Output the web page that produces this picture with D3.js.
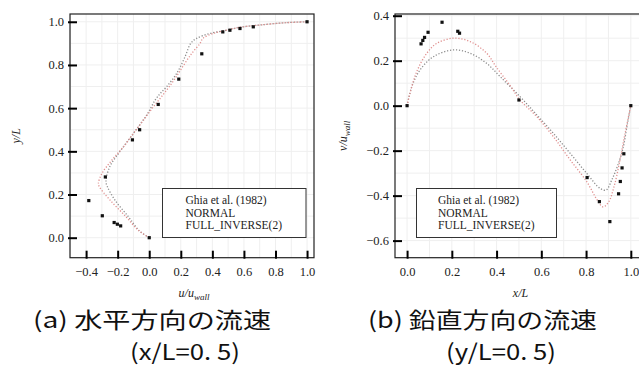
<!DOCTYPE html>
<html>
<head>
<meta charset="utf-8">
<script src="https://cdn.jsdelivr.net/npm/d3@7"></script>
<style>
  body { margin: 0; background: #fff; }
  svg { display: block; }
  .tick text { font-family: "Liberation Serif", serif; font-size: 12.5px; fill: #222; }
  .tick line { stroke: #000; stroke-width: 2; }
  .lbl { font-family: "Liberation Serif", serif; font-style: italic; font-size: 12px; fill: #222; }
  .leg { font-family: "Liberation Serif", serif; font-size: 11.5px; fill: #222; }
  .cap { font-family: "Noto Sans CJK JP", sans-serif; font-size: 22px; fill: #111; }
</style>
</head>
<body>
<div id="chart"></div>
<script>
// Ghia et al. (1982), Re = 1000
const ghiaY = [1.0, 0.9766, 0.9688, 0.9609, 0.9531, 0.8516, 0.7344, 0.6172, 0.5, 0.4531, 0.2813, 0.1719, 0.1016, 0.0703, 0.0625, 0.0547, 0.0];
const ghiaU = [1.0, 0.65928, 0.57492, 0.51117, 0.46604, 0.33304, 0.18719, 0.05702, -0.0608, -0.10648, -0.27805, -0.38289, -0.2973, -0.2222, -0.20196, -0.18109, 0.0];
const ghiaX = [1.0, 0.9688, 0.9609, 0.9531, 0.9453, 0.9063, 0.8594, 0.8047, 0.5, 0.2344, 0.2266, 0.1563, 0.0938, 0.0781, 0.0703, 0.0625, 0.0];
const ghiaV = [0.0, -0.21388, -0.27669, -0.33714, -0.39188, -0.5155, -0.42665, -0.31966, 0.02526, 0.32235, 0.33075, 0.37095, 0.32627, 0.30353, 0.29012, 0.27485, 0.0];

// u along x/L = 0.5
const normalUy = [0, 0.03, 0.097, 0.174, 0.236, 0.26, 0.329, 0.39, 0.452, 0.514, 0.575, 0.637, 0.668, 0.699, 0.761, 0.838, 0.9, 0.923, 0.946, 0.961, 0.974, 0.985, 0.996, 1.0];
const normalU  = [0, -0.06, -0.132, -0.217, -0.265, -0.274, -0.25, -0.195, -0.132, -0.069, -0.01, 0.037, 0.07, 0.11, 0.174, 0.227, 0.263, 0.3, 0.385, 0.49, 0.57, 0.7, 0.87, 1.0];
const inverseUy = [0, 0.035, 0.097, 0.174, 0.236, 0.251, 0.297, 0.359, 0.421, 0.483, 0.544, 0.606, 0.668, 0.73, 0.792, 0.853, 0.9, 0.923, 0.946, 0.961, 0.974, 0.985, 0.996, 1.0];
const inverseU  = [0, -0.07, -0.147, -0.248, -0.316, -0.322, -0.3, -0.237, -0.163, -0.1, -0.037, 0.026, 0.094, 0.157, 0.212, 0.269, 0.322, 0.34, 0.405, 0.49, 0.57, 0.7, 0.87, 1.0];

// v along y/L = 0.5
const normalVx = [0, 0.021, 0.058, 0.118, 0.207, 0.282, 0.356, 0.416, 0.505, 0.58, 0.654, 0.729, 0.803, 0.863, 0.89, 0.915, 0.94, 0.965, 0.985, 1.0];
const normalV  = [0, 0.084, 0.159, 0.218, 0.248, 0.233, 0.188, 0.129, 0.04, -0.041, -0.123, -0.212, -0.301, -0.368, -0.375, -0.33, -0.27, -0.19, -0.08, 0];
const inverseVx = [0, 0.013, 0.043, 0.088, 0.133, 0.207, 0.282, 0.356, 0.4, 0.46, 0.505, 0.58, 0.654, 0.729, 0.803, 0.85, 0.875, 0.9, 0.925, 0.95, 0.975, 1.0];
const inverseV  = [0, 0.055, 0.151, 0.233, 0.277, 0.3, 0.285, 0.233, 0.17, 0.09, 0.025, -0.049, -0.138, -0.241, -0.338, -0.42, -0.45, -0.43, -0.36, -0.25, -0.12, 0];

const legendLabels = ['Ghia et al. (1982)', 'NORMAL', 'FULL_INVERSE(2)'];
const xTicksA = [-0.4, -0.2, 0.0, 0.2, 0.4, 0.6, 0.8, 1.0];
const yTicksA = [0.0, 0.2, 0.4, 0.6, 0.8, 1.0];
const xTicksB = [0.0, 0.2, 0.4, 0.6, 0.8, 1.0];
const yTicksB = [-0.6, -0.4, -0.2, 0.0, 0.2, 0.4];

const width = 639, height = 367;
const svg = d3.select('#chart').append('svg')
  .attr('width', width).attr('height', height);

const zip = (a, b) => a.map((d, i) => [d, b[i]]);

function panel(opt) {
  const x = d3.scaleLinear().domain(opt.xDom).range([opt.left, opt.right]);
  const y = d3.scaleLinear().domain(opt.yDom).range([opt.bottom, opt.top]);
  const g = svg.append('g');

  // grid every 0.1
  const gx = d3.range(Math.ceil(opt.xDom[0] * 10), Math.floor(opt.xDom[1] * 10) + 1).map(d => d / 10);
  const gy = d3.range(Math.ceil(opt.yDom[0] * 10), Math.floor(opt.yDom[1] * 10) + 1).map(d => d / 10);
  g.selectAll('.gx').data(gx).enter().append('line')
    .attr('x1', d => x(d)).attr('x2', d => x(d)).attr('y1', opt.top).attr('y2', opt.bottom)
    .attr('stroke', '#efefef');
  g.selectAll('.gy').data(gy).enter().append('line')
    .attr('y1', d => y(d)).attr('y2', d => y(d)).attr('x1', opt.left).attr('x2', opt.right)
    .attr('stroke', '#efefef');

  const line = d3.line().x(d => x(d[0])).y(d => y(d[1])).curve(d3.curveCatmullRom);
  opt.curves.forEach(c => {
    g.append('path').datum(c.pts).attr('d', line)
      .attr('fill', 'none').attr('stroke', c.color).attr('stroke-width', 1.3)
      .attr('stroke-dasharray', '1.2,1.8');
  });

  g.selectAll('.pt').data(opt.ghia).enter().append('rect')
    .attr('x', d => x(d[0]) - 1.6).attr('y', d => y(d[1]) - 1.6)
    .attr('width', 3.2).attr('height', 3.2).attr('fill', '#111');

  g.append('rect').attr('x', opt.left).attr('y', opt.top)
    .attr('width', opt.right - opt.left).attr('height', opt.bottom - opt.top)
    .attr('fill', 'none').attr('stroke', '#222').attr('stroke-width', 1.2);

  g.append('g').attr('transform', `translate(0,${opt.bottom})`)
    .call(d3.axisBottom(x).tickValues(opt.xTicks).tickFormat(d3.format('.1f')).tickSize(-7).tickPadding(9))
    .call(a => a.select('.domain').remove())
    .call(a => a.selectAll('.tick line').attr('y1', 1));
  g.append('g').attr('transform', `translate(${opt.left},0)`)
    .call(d3.axisLeft(y).tickValues(opt.yTicks).tickFormat(d3.format('.1f')).tickSize(-7).tickPadding(6))
    .call(a => a.select('.domain').remove())
    .call(a => a.selectAll('.tick line').attr('x1', -2));

  // legend
  g.append('rect').attr('x', opt.leg[0]).attr('y', 188.5).attr('width', opt.leg[1]).attr('height', 49)
    .attr('fill', '#fff').attr('stroke', '#333').attr('stroke-width', 1);
  legendLabels.forEach((t, i) => {
    g.append('text').attr('class', 'leg').attr('x', opt.leg[0] + opt.leg[2]).attr('y', 204 + i * 12.5).text(t);
  });

  // axis labels
  const xl = g.append('text').attr('class', 'lbl').attr('text-anchor', 'middle')
    .attr('x', (opt.left + opt.right) / 2 + 2).attr('y', 297);
  opt.xLabel(xl);
  const yl = g.append('text').attr('class', 'lbl').attr('text-anchor', 'middle')
    .attr('transform', `translate(${opt.yLabelX},${(opt.top + opt.bottom) / 2}) rotate(-90)`);
  opt.yLabel(yl);

  // caption
  g.append('text').attr('class', 'cap').attr('x', opt.cap[0]).attr('y', 328)
    .attr('textLength', opt.cap[1]).attr('lengthAdjust', 'spacingAndGlyphs').text(opt.cap[2]);
  g.append('text').attr('class', 'cap').attr('x', opt.cap[3]).attr('y', 360)
    .attr('textLength', opt.cap[4]).attr('lengthAdjust', 'spacingAndGlyphs').text(opt.cap[5]);
}

panel({
  left: 70, right: 314, top: 14, bottom: 257.7,
  xDom: [-0.502, 1.044], yDom: [-0.0926, 1.036],
  xTicks: xTicksA, yTicks: yTicksA,
  ghia: zip(ghiaU, ghiaY),
  curves: [
    { pts: zip(normalU, normalUy), color: '#8c8c8c' },
    { pts: zip(inverseU, inverseUy), color: '#e0908f' }
  ],
  leg: [162.5, 143.5, 23],
  xLabel: t => { t.append('tspan').text('u/u'); t.append('tspan').attr('font-size', 9).attr('dy', 3).text('wall'); },
  yLabel: t => t.text('y/L'),
  yLabelX: 20,
  cap: [33, 238, '(a) 水平方向の流速', 130, 110, '(x/L=0. 5)']
});

panel({
  left: 395, right: 642, top: 14, bottom: 257.7,
  xDom: [-0.054, 1.050], yDom: [-0.676, 0.4076],
  xTicks: xTicksB, yTicks: yTicksB,
  ghia: zip(ghiaX, ghiaV),
  curves: [
    { pts: zip(normalVx, normalV), color: '#8c8c8c' },
    { pts: zip(inverseVx, inverseV), color: '#e0908f' }
  ],
  leg: [416.5, 140, 21.5],
  xLabel: t => t.text('x/L'),
  yLabel: t => { t.append('tspan').text('v/u'); t.append('tspan').attr('font-size', 9).attr('dy', 3).text('wall'); },
  yLabelX: 347,
  cap: [368, 229, '(b) 鉛直方向の流速', 446, 110, '(y/L=0. 5)']
});
</script>
</body>
</html>
